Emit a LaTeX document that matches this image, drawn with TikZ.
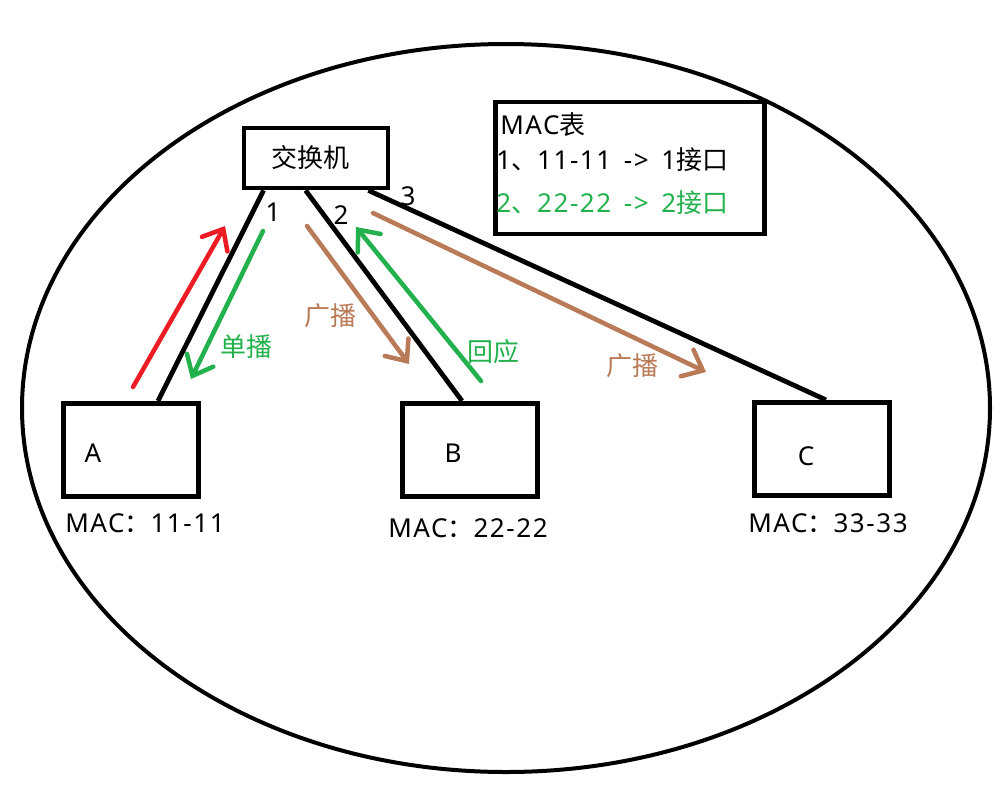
\documentclass[tikz,border=0pt]{standalone}
\usepackage{fontspec}
\setmainfont{Noto Sans}[LetterSpace=6]
\newfontfamily\zh{Noto Sans CJK SC}
\usetikzlibrary{arrows.meta,calc}
\definecolor{paintred}{RGB}{237,28,36}
\definecolor{paintgreen}{RGB}{34,177,76}
\definecolor{paintbrown}{RGB}{185,122,87}
\tikzset{
  box/.style={draw,line width=3.6pt,inner sep=0pt},
  wire/.style={line width=3.6pt},
  flow/.style={line width=3.4pt,line cap=round,-{Straight Barb[length=13pt,width=22pt,line cap=round]}},
  txt/.style={font=\fontsize{19.5}{23}\selectfont,inner sep=0pt}
}

\begin{document}
\begin{tikzpicture}[x=0.75pt,y=-0.75pt]
    \useasboundingbox (0,0) rectangle (1008,790);
    \draw[line width=3pt] (506,408) ellipse (484 and 364);
    \node[box,minimum width=108pt,minimum height=45pt] (sw) at (316,158) {};
    \node[txt] at (310,158) {\zh 交换机};
    \node[box,minimum width=202pt,minimum height=99pt] (tab) at (630,168) {};
    \node[txt,anchor=west] at (500,125) {MAC{\zh 表}};
    \node[txt,anchor=west] at (496,160) {1{\zh 、}11-11 \,-> \,1{\zh 接口}};
    \node[txt,anchor=west,text=paintgreen] at (496,203) {2{\zh 、}22-22 \,-> \,2{\zh 接口}};
    \node[box,minimum width=101pt,minimum height=70pt] (A) at (131,450) {};
    \node[box,minimum width=101pt,minimum height=70pt] (B) at (470,450) {};
    \node[box,minimum width=101pt,minimum height=70pt] (C) at (822,449) {};
    \node[txt] at (93,453) {A};
    \node[txt] at (453,453) {B};
    \node[txt] at (806,456) {C};
    \node[txt] at (145,523) {MAC{\zh ：}11-11};
    \node[txt] at (468,528) {MAC{\zh ：}22-22};
    \node[txt] at (828,523) {MAC{\zh ：}33-33};
    \draw[wire] ($(A.north)+(27,0)$) -- ($(sw.south west)+(22,0)$);
    \draw[wire] ($(sw.south west)+(64,0)$) -- ($(B.north)+(-8,0)$);
    \draw[wire] ($(sw.south east)+(-22,0)$) -- ($(C.north)+(4,0)$);
    \node[txt] at (273,212) {1};
    \node[txt] at (341,215) {2};
    \node[txt] at (408,196) {3};
    % frames between the hosts and the switch
    \draw[flow,paintred] (133,387) -- (225,226);
    \draw[flow,paintgreen] (263,231) -- (191,379);
    \draw[flow,paintbrown] (307,226) -- (409,364);
    \draw[flow,paintgreen] (481,381) -- (356,227);
    \draw[flow,paintbrown] (373,213) -- (706,372);
    \node[txt,text=paintgreen] at (246,347) {\zh 单播};
    \node[txt,text=paintbrown] at (330,316) {\zh 广播};
    \node[txt,text=paintgreen] at (493,352) {\zh 回应};
    \node[txt,text=paintbrown] at (632,366) {\zh 广播};
  \end{tikzpicture}
\end{document}
